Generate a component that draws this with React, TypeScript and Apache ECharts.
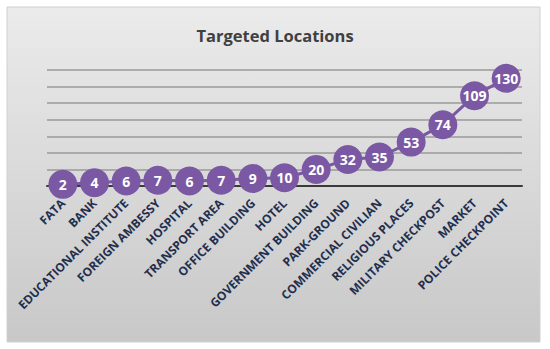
import React, { useEffect, useRef } from "react";
import * as echarts from "echarts";

const categories = [
  "FATA",
  "BANK",
  "EDUCATIONAL INSTITUTE",
  "FOREIGN AMBESSY",
  "HOSPITAL",
  "TRANSPORT AREA",
  "OFFICE BUILDING",
  "HOTEL",
  "GOVERNMENT BUILDING",
  "PARK-GROUND",
  "COMMERCIAL CIVILIAN",
  "RELIGIOUS PLACES",
  "MILITARY CHECKPOST",
  "MARKET",
  "POLICE CHECKPOINT",
];
const values = [2, 4, 6, 7, 6, 7, 9, 10, 20, 32, 35, 53, 74, 109, 130];
const title = "Targeted Locations";

export default function App() {
  const ref = useRef<HTMLDivElement>(null);
  useEffect(() => {
    if (!ref.current) return;
    const chart = echarts.init(ref.current, undefined, { renderer: "svg" });
    chart.setOption({
      animation: false,
      backgroundColor: "#ffffff",
      graphic: [
        {
          type: "rect",
          z: -10,
          silent: true,
          shape: { x: 7, y: 7, width: 533, height: 335 },
          style: {
            fill: new echarts.graphic.LinearGradient(0, 0, 0, 1, [
              { offset: 0, color: "#ebebeb" },
              { offset: 1, color: "#c8c8c8" },
            ]),
            stroke: "#d0d0d0",
            lineWidth: 1,
          },
        },
      ],
      title: {
        text: title,
        left: "center",
        top: 22,
        textStyle: {
          fontFamily: "Open Sans",
          fontWeight: "bold",
          fontSize: 16.5,
          color: "#404040",
        },
      },
      grid: { left: 47, right: 28, top: 70, bottom: 163, containLabel: false },
      xAxis: {
        type: "category",
        data: categories,
        boundaryGap: true,
        axisLine: { show: true, lineStyle: { color: "#3a3a3a", width: 2 } },
        axisTick: { show: false },
        axisLabel: {
          interval: 0,
          rotate: 45,
          margin: 15,
          fontFamily: "Open Sans",
          fontWeight: "bold",
          fontSize: 12,
          color: "#1f2f4f",
        },
      },
      yAxis: {
        type: "value",
        min: 0,
        max: 140,
        interval: 20,
        axisLabel: { show: false },
        axisLine: { show: false },
        axisTick: { show: false },
        splitLine: { lineStyle: { color: "#9a9a9a", width: 1.5 } },
      },
      series: [
        {
          type: "line",
          data: values,
          symbol: "circle",
          symbolSize: 29,
          lineStyle: { color: "#7a58a3", width: 3 },
          itemStyle: { color: "#7a58a3" },
          label: {
            show: true,
            position: "inside",
            color: "#ffffff",
            fontFamily: "Open Sans",
            fontWeight: "bold",
            fontSize: 14,
          },
        },
      ],
    });
    return () => chart.dispose();
  }, []);
  return (
    <div
      ref={ref}
      style={{ position: "absolute", left: 0, top: 0, width: 550, height: 349 }}
    />
  );
}
